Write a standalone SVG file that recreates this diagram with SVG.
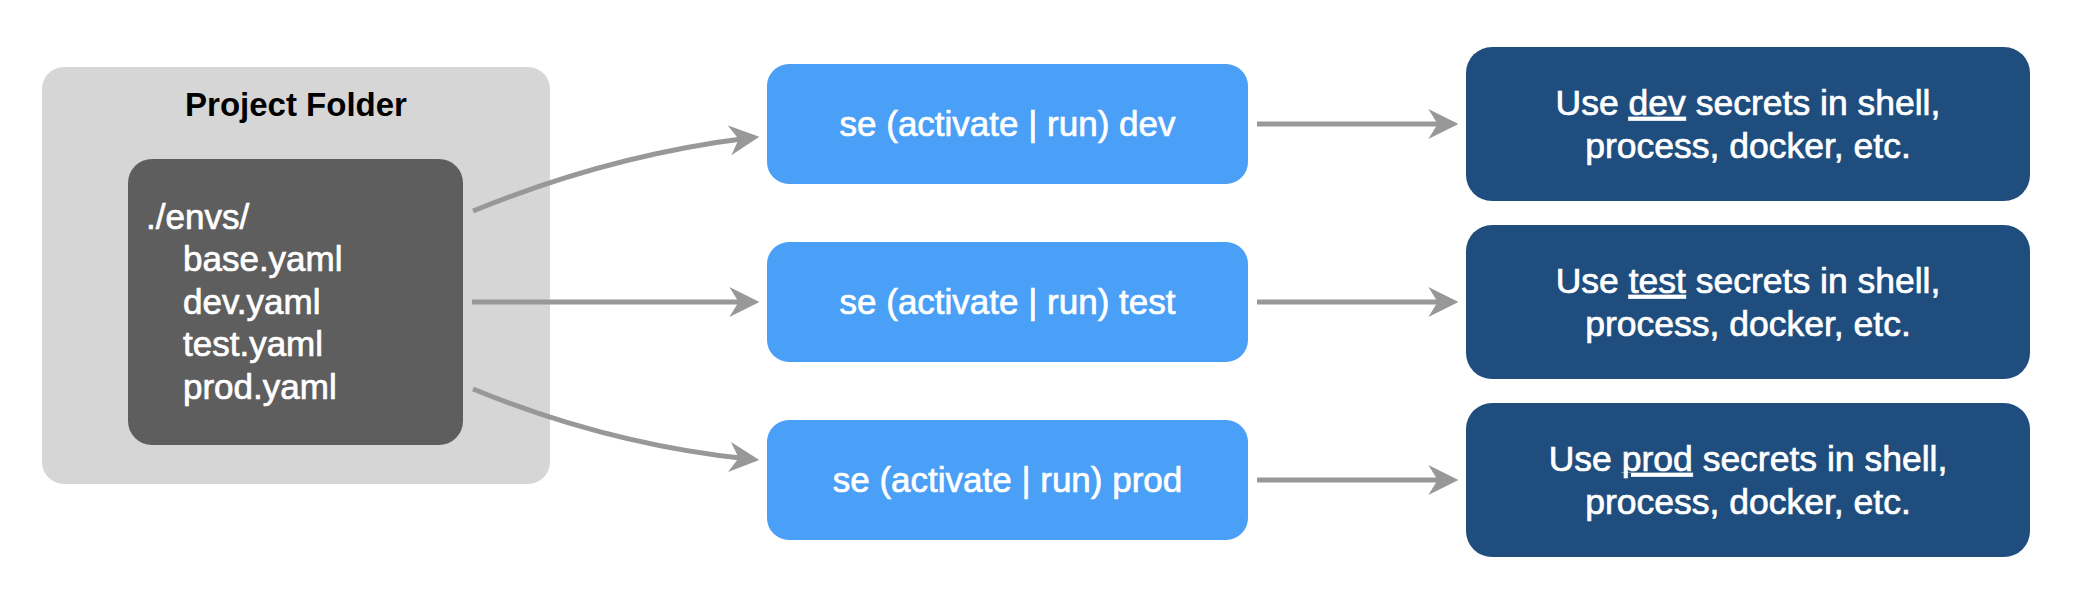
<svg xmlns="http://www.w3.org/2000/svg" width="2078" height="594" viewBox="0 0 2078 594">
  <style>
    .t { font-family: "Liberation Sans", Arial, Helvetica, sans-serif; }
    .title { font-size: 33px; font-weight: bold; fill: #000; }
    .file { font-size: 35px; fill: #fff; stroke: #fff; stroke-width: 0.7px; }
    .cmd { font-size: 35px; fill: #fff; stroke: #fff; stroke-width: 0.7px; text-anchor: middle; }
    .use { font-size: 35.5px; fill: #fff; stroke: #fff; stroke-width: 0.7px; text-anchor: middle; }
    .blue { fill: #4aa0f7; }
    .navy { fill: #1f4e7e; }
    .conn { fill: none; stroke: #989898; stroke-width: 5; marker-end: url(#arrow); }
    .ul { text-decoration: underline; }
  </style>
  <defs>
    <marker id="arrow" markerUnits="userSpaceOnUse" markerWidth="30" markerHeight="30" viewBox="0 0 26 26" refX="17" refY="13" orient="auto">
      <path d="M0,0 L26,13 L0,26 L8,13 Z" fill="#989898"/>
    </marker>
  </defs>

  <g id="project-folder">
    <rect x="42" y="67" width="508" height="417" rx="22" fill="#d6d6d6"/>
    <text class="t title" x="296" y="116" text-anchor="middle">Project Folder</text>
  </g>

  <g id="envs">
    <rect x="128" y="159" width="335" height="286" rx="24" fill="#5e5e5e"/>
    <text class="t file" x="146" y="229">./envs/</text>
    <text class="t file" x="183" y="271">base.yaml</text>
    <text class="t file" x="183" y="314">dev.yaml</text>
    <text class="t file" x="183" y="356">test.yaml</text>
    <text class="t file" x="183" y="399">prod.yaml</text>
  </g>

  <g id="cmd-dev">
    <rect class="blue" x="767" y="64" width="481" height="120" rx="22"/>
    <text class="t cmd" x="1007.5" y="136">se (activate | run) dev</text>
  </g>
  <g id="cmd-test">
    <rect class="blue" x="767" y="242" width="481" height="120" rx="22"/>
    <text class="t cmd" x="1007.5" y="314">se (activate | run) test</text>
  </g>
  <g id="cmd-prod">
    <rect class="blue" x="767" y="420" width="481" height="120" rx="22"/>
    <text class="t cmd" x="1007.5" y="492">se (activate | run) prod</text>
  </g>

  <g id="use-dev">
    <rect class="navy" x="1466" y="47" width="564" height="154" rx="26"/>
    <text class="t use" x="1748" y="115">Use <tspan class="ul">dev</tspan> secrets in shell,</text>
    <text class="t use" x="1748" y="158">process, docker, etc.</text>
  </g>
  <g id="use-test">
    <rect class="navy" x="1466" y="225" width="564" height="154" rx="26"/>
    <text class="t use" x="1748" y="293">Use <tspan class="ul">test</tspan> secrets in shell,</text>
    <text class="t use" x="1748" y="336">process, docker, etc.</text>
  </g>
  <g id="use-prod">
    <rect class="navy" x="1466" y="403" width="564" height="154" rx="26"/>
    <text class="t use" x="1748" y="471">Use <tspan class="ul">prod</tspan> secrets in shell,</text>
    <text class="t use" x="1748" y="514">process, docker, etc.</text>
  </g>

  <g id="connectors">
    <path class="conn" d="M473,211 Q610,155 749,138"/>
    <path class="conn" d="M472,302 L749,302"/>
    <path class="conn" d="M473,389 Q610,445 749,459"/>
    <path class="conn" d="M1257,124 L1448,124"/>
    <path class="conn" d="M1257,302 L1448,302"/>
    <path class="conn" d="M1257,480 L1448,480"/>
  </g>
</svg>
